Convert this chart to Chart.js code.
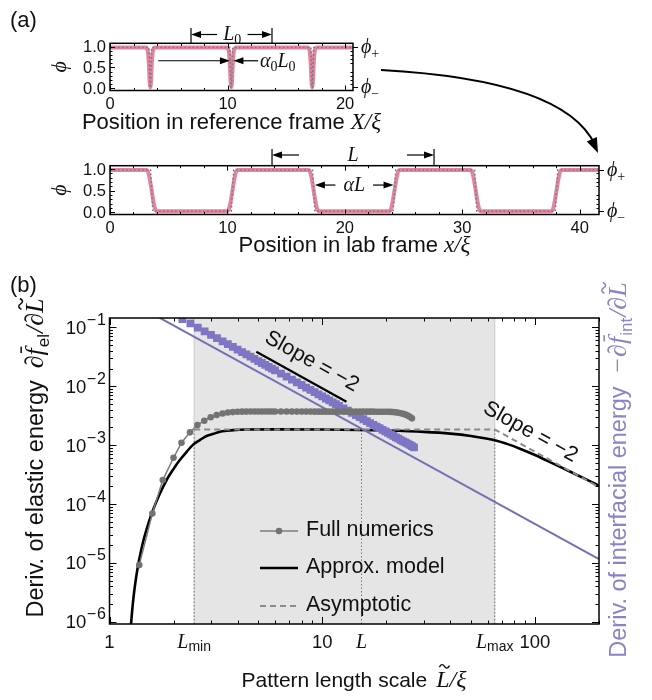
<!DOCTYPE html>
<html>
<head>
<meta charset="utf-8">
<title>Pattern length scale</title>
<script src="https://cdn.jsdelivr.net/npm/chart.js@4.4.1/dist/chart.umd.min.js"></script>
<style>
html,body{margin:0;padding:0;background:#fff;}
#wrap{position:relative;width:652px;height:700px;overflow:hidden;background:#fff;}
#wrap canvas{position:absolute;left:0;}
</style>
</head>
<body>
<div id="wrap">
  <canvas id="cB" width="652" height="440" style="top:260px"></canvas>
  <canvas id="cA2" width="652" height="120" style="top:140px"></canvas>
  <canvas id="cA1" width="652" height="170" style="top:0px"></canvas>
</div>
<script>
// ================= DATA =================
// Panel (a), reference frame
const refX   = [0, 3.03,3.21,3.31,3.38,3.43,3.48,3.55,3.65,3.83, 9.92,10.1,10.2,10.27,10.32,10.37,10.44,10.54,10.72, 16.8,16.98,17.08,17.15,17.2,17.25,17.32,17.42,17.6, 20.67];
const refPhi = [0.98, 0.98,0.9,0.55,0.12,0.02,0.12,0.55,0.9,0.98, 0.98,0.9,0.55,0.12,0.02,0.12,0.55,0.9,0.98, 0.98,0.9,0.55,0.12,0.02,0.12,0.55,0.9,0.98, 0.98];
const refDotX = [0, 3.31,3.41,3.45,3.55, 10.2,10.3,10.34,10.44, 17.08,17.18,17.22,17.32, 20.67];
const refDotY = [0.98, 0.98,0.02,0.02,0.98, 0.98,0.02,0.02,0.98, 0.98,0.02,0.02,0.98, 0.98];
// Panel (a), lab frame
const labX = [0,
  3.1,3.25,3.4,3.55,3.7,3.85,4.0,
  9.98,10.13,10.28,10.43,10.58,10.73,10.88,
  16.9,17.05,17.2,17.35,17.5,17.65,17.8,
  23.78,23.93,24.08,24.23,24.38,24.53,24.68,
  30.7,30.85,31.0,31.15,31.3,31.45,31.6,
  37.58,37.73,37.88,38.03,38.18,38.33,38.48,
  41.65];
const labPhi = [0.98,
  0.98,0.93,0.75,0.5,0.25,0.07,0.02,
  0.02,0.07,0.25,0.5,0.75,0.93,0.98,
  0.98,0.93,0.75,0.5,0.25,0.07,0.02,
  0.02,0.07,0.25,0.5,0.75,0.93,0.98,
  0.98,0.93,0.75,0.5,0.25,0.07,0.02,
  0.02,0.07,0.25,0.5,0.75,0.93,0.98,
  0.98];
const labDotX = [0, 3.45,3.65, 10.32,10.54, 17.25,17.45, 24.12,24.34, 31.05,31.25, 37.92,38.14, 41.65];
const labDotY = [0.98, 0.98,0.02, 0.02,0.98, 0.98,0.02, 0.02,0.98, 0.98,0.02, 0.02,0.98, 0.98];
const refXTicks = [0, 10, 20];
const labXTicks = [0, 10, 20, 30, 40];
const aYTicks = [0.0, 0.5, 1.0];
const aYTickLabels = ['0.0', '0.5', '1.0'];
const phiPlus = 0.98, phiMinus = 0.02;
const L0start = 6.89, L0end = 13.78;
const Lstart = 13.8, Lend = 27.6;

// Panel (b)
const numX = [1.38,1.59,1.78,2.0,2.18,2.39,2.59,2.79,2.99,3.19,3.4,3.6,3.8,4.0,4.2,4.4,4.6,4.8,5.0,5.2,5.4,5.6,5.8,6.0,
  6.4,6.8,7.2,7.6,8.0,8.4,8.8,9.2,9.6,10.0,10.4,10.8,11.2,11.6,12.0,
  12.6,13.2,13.8,14.4,15.0,15.6,16.2,16.8,17.4,18.0,18.6,19.2,19.8,20.4,21.0,21.6,22.2,22.8,23.4,24.0,24.6,25.2,25.8,26.4];
const numElastic = [9.2e-6,6.9e-5,2.55e-4,6.1e-4,1.1e-3,1.65e-3,2.19e-3,2.6e-3,2.97e-3,3.24e-3,3.45e-3,3.58e-3,3.64e-3,3.68e-3,3.7e-3,3.71e-3,3.72e-3,3.72e-3,3.72e-3,3.72e-3,3.72e-3,3.72e-3,3.72e-3,3.72e-3,
  3.72e-3,3.72e-3,3.71e-3,3.71e-3,3.71e-3,3.71e-3,3.71e-3,3.7e-3,3.7e-3,3.7e-3,3.7e-3,3.7e-3,3.7e-3,3.7e-3,3.7e-3,
  3.7e-3,3.7e-3,3.7e-3,3.7e-3,3.7e-3,3.7e-3,3.7e-3,3.7e-3,3.7e-3,3.69e-3,3.69e-3,3.69e-3,3.68e-3,3.68e-3,3.67e-3,3.64e-3,3.6e-3,3.55e-3,3.48e-3,3.4e-3,3.3e-3,3.18e-3,3.02e-3,2.85e-3];
const sqX = [2.2,2.4,2.6,2.8,3.0,3.2,3.4,3.6,3.8,4.0,4.2,4.4,4.6,4.8,5.0,5.2,5.4,5.6,5.8,6.0,
  6.4,6.8,7.2,7.6,8.0,8.4,8.8,9.2,9.6,10.0,10.4,10.8,11.2,11.6,12.0,
  12.6,13.2,13.8,14.4,15.0,15.6,16.2,16.8,17.4,18.0,18.6,19.2,19.8,20.4,21.0,21.6,22.2,22.8,23.4,24.0,24.6,25.2,25.8,26.4,27.0];
const sqInterfacial = [0.1384,0.1163,0.0991,0.0855,0.0744,0.0654,0.058,0.0517,0.0464,0.0419,0.038,0.0346,0.0317,0.0291,0.0268,0.0248,0.023,0.0214,0.0199,0.0186,
  0.0164,0.0145,0.0129,0.0116,0.0105,0.0095,0.00865,0.00792,0.00727,0.0067,0.00619,0.00574,0.00534,0.00498,0.00465,
  0.00422,0.00385,0.00352,0.00323,0.00298,0.00275,0.00255,0.00237,0.00221,0.00207,0.00194,0.00182,0.00171,0.00161,0.00152,0.00144,0.00136,0.00129,0.00122,0.00116,0.00111,0.00106,0.00101,0.000961,0.000919];
const approxX = [1.245,1.262,1.285,1.308,1.335,1.366,1.41,1.458,1.53,1.607,1.72,1.857,2.0,2.14,2.3,2.48,2.66,2.86,3.08,3.31,3.55,3.82,4.41,6,10,15,20,30,40,50,64.7,75,85,100,122,150,175,200];
const approxElastic = [4.1e-7,8.9e-7,1.9e-6,3.39e-6,5.78e-6,9.48e-6,1.67e-5,2.74e-5,4.94e-5,8.18e-5,1.47e-4,2.58e-4,3.95e-4,5.58e-4,7.64e-4,1.03e-3,1.22e-3,1.43e-3,1.56e-3,1.69e-3,1.75e-3,1.80e-3,1.84e-3,1.85e-3,1.84e-3,1.81e-3,1.77e-3,1.68e-3,1.57e-3,1.43e-3,1.21e-3,1.03e-3,8.7e-4,6.8e-4,4.85e-4,3.4e-4,2.6e-4,2.05e-4];
const Lmin = 2.5, Lmid = 15.3, Lmax = 64.7;
const asymX = [2.5, 64.7, 200];
const asymElastic = [1.85e-3, 1.85e-3, 1.936e-4];
const interfX = [1.6, 200];
const interfApprox = [0.1676, 1.16e-5];
const slopeSegX = [4.9, 13.0];
const slopeSegY = [0.0385, 0.00547];
const guideTop = 1.85e-3;
const bXMin = 1, bXMax = 200, bYMin = 9.2e-7, bYMax = 0.144;
const bXTickValues = [1, 2.5, 10, 15.3, 64.7, 100];
const bXTickLabels = ['1', 'L|min', '10', 'L', 'L|max', '100'];
const bYTickExps = [-1, -2, -3, -4, -5, -6];
const legendLabels = ['Full numerics', 'Approx. model', 'Asymptotic'];

// ================= HELPERS =================
const FS = '"Liberation Sans", Arial, sans-serif';
const FI = '"Liberation Serif", "DejaVu Serif", serif';
const INK = '#111';
const PURPLE = '#7570b3', PURPLE_SQ = '#7d76c4', PURPLE_TXT = '#8a84c6';
const pts = (xs, ys) => xs.map((x, i) => ({x, y: ys[i]}));
function fontOf(p){ return p.f === 'i' ? `italic ${p.s}px ${FI}` : (p.f === 'r' ? `${p.s}px ${FI}` : `${p.s}px ${FS}`); }
function partsWidth(ctx, parts){ let w = 0; for (const p of parts){ ctx.font = fontOf(p); p._w = ctx.measureText(p.t).width; w += p._w + (p.g || 0); } return w; }
function drawParts(ctx, parts, x, y, align){
  const w = partsWidth(ctx, parts);
  let cx = align === 'center' ? x - w/2 : (align === 'right' ? x - w : x);
  ctx.textAlign = 'left'; ctx.textBaseline = 'alphabetic';
  for (const p of parts){
    ctx.font = fontOf(p);
    const yy = y + (p.dy || 0);
    ctx.fillText(p.t, cx, yy);
    if (p.acc === 'bar'){
      ctx.save(); ctx.strokeStyle = ctx.fillStyle; ctx.lineWidth = Math.max(1, p.s*0.06);
      const by = yy - p.s*0.84; ctx.beginPath(); ctx.moveTo(cx + p._w*0.35, by); ctx.lineTo(cx + p._w*1.2, by); ctx.stroke(); ctx.restore();
    }
    if (p.acc === 'tilde'){
      ctx.save(); ctx.strokeStyle = ctx.fillStyle; ctx.lineWidth = Math.max(1, p.s*0.06);
      const tx = cx + p._w*0.62, ty = yy - p.s*0.86, tw = p.s*0.42, th = p.s*0.1;
      ctx.beginPath(); ctx.moveTo(tx - tw/2, ty + th*0.3);
      ctx.quadraticCurveTo(tx - tw/4, ty - th*1.6, tx, ty);
      ctx.quadraticCurveTo(tx + tw/4, ty + th*1.6, tx + tw/2, ty - th*0.3);
      ctx.stroke(); ctx.restore();
    }
    cx += p._w + (p.g || 0);
  }
  return w;
}
function arrow(ctx, x1, y1, x2, y2, hl, hw){
  hl = hl || 10; hw = hw || 7;
  const dx = x2 - x1, dy = y2 - y1, n = Math.hypot(dx, dy), ux = dx/n, uy = dy/n;
  ctx.beginPath(); ctx.moveTo(x1, y1); ctx.lineTo(x2 - ux*hl*0.7, y2 - uy*hl*0.7); ctx.stroke();
  ctx.beginPath(); ctx.moveTo(x2, y2);
  ctx.lineTo(x2 - ux*hl - uy*hw/2, y2 - uy*hl + ux*hw/2);
  ctx.lineTo(x2 - ux*hl + uy*hw/2, y2 - uy*hl - ux*hw/2);
  ctx.closePath(); ctx.fill();
}
function baseOpts(padding, xs, ys){
  return { responsive:false, animation:false, events:[], layout:{padding},
    plugins:{legend:{display:false}, tooltip:{enabled:false}}, scales:{x:xs, y:ys} };
}

// ================= PANEL (a) =================
function panelAPlugin(o){
  return { id:'panelA_' + o.id, afterDraw(chart){
    const {ctx, chartArea:a} = chart; const xs = chart.scales.x, ys = chart.scales.y;
    ctx.save();
    ctx.strokeStyle = '#000'; ctx.fillStyle = INK;
    ctx.lineWidth = 1; ctx.beginPath();
    for (let v = 0; v <= o.xmax + 1e-9; v += 2){
      const p = Math.round(xs.getPixelForValue(v)) + 0.5;
      const len = (v % 10 === 0) ? 5 : 2.5;
      ctx.moveTo(p, a.bottom); ctx.lineTo(p, a.bottom - len);
      ctx.moveTo(p, a.top); ctx.lineTo(p, a.top + len);
    }
    for (let k = 0; k <= 10; k++){
      const v = k/10; const p = Math.round(ys.getPixelForValue(v)) + 0.5;
      const len = (k % 5 === 0) ? 5 : 2.5;
      ctx.moveTo(a.left, p); ctx.lineTo(a.left + len, p);
      if (k % 5 !== 0){ ctx.moveTo(a.right, p); ctx.lineTo(a.right - 2.5, p); }
    }
    for (const v of [phiPlus, phiMinus]){
      const p = Math.round(ys.getPixelForValue(v)) + 0.5;
      ctx.moveTo(a.right, p); ctx.lineTo(a.right + 5, p);
    }
    ctx.stroke();
    ctx.lineWidth = 1.5; ctx.strokeRect(a.left, a.top, a.right - a.left, a.bottom - a.top);
    ctx.font = `16.5px ${FS}`; ctx.textAlign = 'center'; ctx.textBaseline = 'alphabetic';
    for (const v of o.xticks){ ctx.fillText(String(v), xs.getPixelForValue(v), a.bottom + 18.5); }
    ctx.textAlign = 'right'; ctx.textBaseline = 'middle';
    aYTicks.forEach((v, i) => ctx.fillText(aYTickLabels[i], a.left - 4, ys.getPixelForValue(v) + 1));
    drawParts(ctx, [{t:'ϕ', f:'i', s:20}, {t:'+', f:'r', s:14, dy:5}], a.right + 8, ys.getPixelForValue(phiPlus) + 6, 'left');
    drawParts(ctx, [{t:'ϕ', f:'i', s:20}, {t:'−', f:'r', s:14, dy:5}], a.right + 8, ys.getPixelForValue(phiMinus) + 6, 'left');
    drawParts(ctx, o.xlabel, (a.left + a.right)/2, o.xlabelY, 'center');
    ctx.save(); ctx.translate(66, (a.top + a.bottom)/2); ctx.rotate(-Math.PI/2);
    drawParts(ctx, [{t:'ϕ', f:'i', s:22}], 0, 0, 'center'); ctx.restore();
    o.extra(ctx, xs, ys, a);
    ctx.restore();
  }};
}

new Chart(document.getElementById('cA1'), {
  type:'line',
  data:{datasets:[
    {data:pts(refDotX, refDotY), borderColor:'#7a7a7a', borderWidth:1.6, borderDash:[1.6,2.4], pointRadius:0, order:0},
    {data:pts(refX, refPhi), borderColor:'rgba(222,112,142,0.85)', borderWidth:4, pointRadius:0, borderJoinStyle:'round', cubicInterpolationMode:'monotone', order:1}
  ]},
  options: baseOpts({left:110, right:652-353, top:43.3, bottom:170-90.5},
    {type:'linear', min:0, max:20.67, display:false},
    {type:'linear', min:-0.055, max:1.08, display:false}),
  plugins:[panelAPlugin({id:'ref', xmax:20.67, xticks:refXTicks, xlabelY:129,
    xlabel:[{t:'Position in reference frame', f:'s', s:22, g:6}, {t:'X', f:'i', s:23}, {t:'/', f:'i', s:23}, {t:'ξ', f:'i', s:23}],
    extra(ctx, xs, ys, a){
      ctx.strokeStyle = '#000'; ctx.fillStyle = '#000'; ctx.lineWidth = 1.2;
      const b1 = xs.getPixelForValue(L0start), b2 = xs.getPixelForValue(L0end);
      ctx.beginPath(); ctx.moveTo(b1, 28); ctx.lineTo(b1, a.top); ctx.moveTo(b2, 28); ctx.lineTo(b2, a.top); ctx.stroke();
      arrow(ctx, xs.getPixelForValue(9.1), 34.5, b1, 34.5);
      arrow(ctx, xs.getPixelForValue(11.7), 34.5, b2, 34.5);
      ctx.fillStyle = INK;
      drawParts(ctx, [{t:'L', f:'i', s:20}, {t:'0', f:'r', s:14, dy:4}], xs.getPixelForValue(10.4), 40, 'center');
      const ya = ys.getPixelForValue(0.66);
      ctx.fillStyle = '#000';
      arrow(ctx, xs.getPixelForValue(4.1), ya, xs.getPixelForValue(10.2), ya);
      arrow(ctx, xs.getPixelForValue(12.6), ya, xs.getPixelForValue(10.5), ya);
      ctx.fillStyle = INK;
      drawParts(ctx, [{t:'α', f:'i', s:20}, {t:'0', f:'r', s:14, dy:4}, {t:'L', f:'i', s:20}, {t:'0', f:'r', s:14, dy:4}], xs.getPixelForValue(12.75), ya + 6, 'left');
      ctx.font = `22px ${FS}`; ctx.textAlign = 'left'; ctx.textBaseline = 'alphabetic';
      ctx.fillText('(a)', 10, 27);
      ctx.strokeStyle = '#000'; ctx.fillStyle = '#000'; ctx.lineWidth = 2;
      const P0 = [381, 70], C = [565, 80], P2 = [598, 153];
      ctx.beginPath(); ctx.moveTo(P0[0], P0[1]); ctx.quadraticCurveTo(C[0], C[1], P2[0] - 3, P2[1] - 8); ctx.stroke();
      const dx = P2[0] - C[0], dy = P2[1] - C[1], n = Math.hypot(dx, dy), ux = dx/n, uy = dy/n, hl = 15, hw = 11;
      ctx.beginPath(); ctx.moveTo(P2[0], P2[1]);
      ctx.lineTo(P2[0] - ux*hl - uy*hw/2, P2[1] - uy*hl + ux*hw/2);
      ctx.lineTo(P2[0] - ux*hl + uy*hw/2, P2[1] - uy*hl - ux*hw/2);
      ctx.closePath(); ctx.fill();
    }})]
});

new Chart(document.getElementById('cA2'), {
  type:'line',
  data:{datasets:[
    {data:pts(labDotX, labDotY), borderColor:'#7a7a7a', borderWidth:1.6, borderDash:[1.6,2.4], pointRadius:0, order:0},
    {data:pts(labX, labPhi), borderColor:'rgba(222,112,142,0.85)', borderWidth:4, pointRadius:0, borderJoinStyle:'round', cubicInterpolationMode:'monotone', order:1}
  ]},
  options: baseOpts({left:110, right:652-599, top:25.7, bottom:120-74.5},
    {type:'linear', min:0, max:41.65, display:false},
    {type:'linear', min:-0.055, max:1.08, display:false}),
  plugins:[panelAPlugin({id:'lab', xmax:41.65, xticks:labXTicks, xlabelY:112,
    xlabel:[{t:'Position in lab frame', f:'s', s:22, g:6}, {t:'x', f:'i', s:23}, {t:'/', f:'i', s:23}, {t:'ξ', f:'i', s:23}],
    extra(ctx, xs, ys, a){
      ctx.strokeStyle = '#000'; ctx.fillStyle = '#000'; ctx.lineWidth = 1.2;
      const b1 = xs.getPixelForValue(Lstart), b2 = xs.getPixelForValue(Lend);
      ctx.beginPath(); ctx.moveTo(b1, 9); ctx.lineTo(b1, a.top); ctx.moveTo(b2, 9); ctx.lineTo(b2, a.top); ctx.stroke();
      arrow(ctx, xs.getPixelForValue(16.1), 15, b1, 15);
      arrow(ctx, xs.getPixelForValue(25.3), 15, b2, 15);
      ctx.fillStyle = INK;
      drawParts(ctx, [{t:'L', f:'i', s:20}], xs.getPixelForValue(20.7), 21, 'center');
      const ya = ys.getPixelForValue(0.63);
      ctx.fillStyle = '#000';
      arrow(ctx, xs.getPixelForValue(19.2), ya, xs.getPixelForValue(17.45), ya);
      arrow(ctx, xs.getPixelForValue(22.4), ya, xs.getPixelForValue(24.15), ya);
      ctx.fillStyle = INK;
      drawParts(ctx, [{t:'αL', f:'i', s:20}], xs.getPixelForValue(20.8), ya + 6, 'center');
    }})]
});

// ================= PANEL (b) =================
const bPlugin = {
  id:'panelB',
  beforeDatasetsDraw(chart){
    const {ctx, chartArea:a} = chart; const xs = chart.scales.x;
    const x0 = xs.getPixelForValue(Lmin), x1 = xs.getPixelForValue(Lmax);
    ctx.save();
    ctx.fillStyle = '#e5e5e5'; ctx.fillRect(x0, a.top, x1 - x0, a.bottom - a.top);
    ctx.strokeStyle = '#c9c9c9'; ctx.lineWidth = 1;
    ctx.beginPath(); ctx.moveTo(x0, a.top); ctx.lineTo(x0, a.bottom); ctx.moveTo(x1, a.top); ctx.lineTo(x1, a.bottom); ctx.stroke();
    ctx.restore();
  },
  afterDraw(chart){
    const {ctx, chartArea:a} = chart; const xs = chart.scales.x, ys = chart.scales.y;
    ctx.save();
    ctx.strokeStyle = '#000'; ctx.lineWidth = 1; ctx.beginPath();
    for (let e = 0; e <= 2; e++){
      for (let m = 1; m <= 9; m++){
        const v = m*Math.pow(10, e); if (v < bXMin || v > bXMax) continue;
        const p = Math.round(xs.getPixelForValue(v)) + 0.5; const len = m === 1 ? 7 : 3.5;
        ctx.moveTo(p, a.bottom); ctx.lineTo(p, a.bottom - len);
        ctx.moveTo(p, a.top); ctx.lineTo(p, a.top + len);
      }
    }
    for (let e = -7; e <= -1; e++){
      for (let m = 1; m <= 9; m++){
        const v = m*Math.pow(10, e); if (v < bYMin || v > bYMax) continue;
        const p = Math.round(ys.getPixelForValue(v)) + 0.5; const len = m === 1 ? 7 : 3.5;
        ctx.moveTo(a.left, p); ctx.lineTo(a.left + len, p);
        ctx.moveTo(a.right, p); ctx.lineTo(a.right - len, p);
      }
    }
    ctx.stroke();
    ctx.lineWidth = 1.5; ctx.strokeRect(a.left, a.top, a.right - a.left, a.bottom - a.top);
    ctx.fillStyle = INK;
    bXTickValues.forEach((v, i) => {
      const lab = bXTickLabels[i]; const px = xs.getPixelForValue(v);
      if (lab.indexOf('|') >= 0){ const [b, s] = lab.split('|');
        drawParts(ctx, [{t:b, f:'i', s:20}, {t:s, f:'s', s:14, dy:3}], px, a.bottom + 24, 'center');
      } else if (lab === 'L'){ drawParts(ctx, [{t:'L', f:'i', s:20}], px, a.bottom + 24, 'center'); }
      else { drawParts(ctx, [{t:lab, f:'s', s:18.5}], px, a.bottom + 24, 'center'); }
    });
    bYTickExps.forEach(e => {
      const py = ys.getPixelForValue(Math.pow(10, e));
      drawParts(ctx, [{t:'10', f:'s', s:18.5, g:0.5}, {t:'−', f:'s', s:16, dy:-9, g:1}, {t:String(Math.abs(e)), f:'s', s:16, dy:-9}], 106, py + 6.5, 'right');
    });
    drawParts(ctx, [{t:'Pattern length scale', f:'s', s:21, g:9}, {t:'L', f:'i', s:24, acc:'tilde'}, {t:'/', f:'i', s:24}, {t:'ξ', f:'i', s:24}], 354, 427, 'center');
    ctx.save(); ctx.translate(43, 198); ctx.rotate(-Math.PI/2);
    drawParts(ctx, [{t:'Deriv. of elastic energy', f:'s', s:23.5, g:12}, {t:'∂', f:'i', s:26}, {t:'f', f:'i', s:26, acc:'bar', g:1}, {t:'el', f:'s', s:17, dy:6, g:1}, {t:'/∂', f:'i', s:26}, {t:'L', f:'i', s:26, acc:'tilde'}], 0, 0, 'center');
    ctx.restore();
    ctx.save(); ctx.fillStyle = PURPLE_TXT; ctx.translate(626, 210); ctx.rotate(-Math.PI/2);
    drawParts(ctx, [{t:'Deriv. of interfacial energy', f:'s', s:23.5, g:12}, {t:'−∂', f:'i', s:26}, {t:'f', f:'i', s:26, acc:'bar', g:1}, {t:'int', f:'s', s:17, dy:6, g:1}, {t:'/∂', f:'i', s:26}, {t:'L', f:'i', s:26, acc:'tilde'}], 0, 0, 'center');
    ctx.restore();
    const ang = Math.atan2(ys.getPixelForValue(1e-3) - ys.getPixelForValue(1e-1), xs.getPixelForValue(100) - xs.getPixelForValue(10));
    const slopeText = (vx, vy, off) => {
      ctx.save(); ctx.translate(xs.getPixelForValue(vx), ys.getPixelForValue(vy)); ctx.rotate(ang);
      ctx.fillStyle = INK; drawParts(ctx, [{t:'Slope = −2', f:'s', s:21.5}], 0, 7 + off, 'center'); ctx.restore();
    };
    slopeText(8.76, 0.0229, -5);
    slopeText(95.8, 1.73e-3, 0);
    ctx.fillStyle = INK; ctx.font = `22px ${FS}`; ctx.textAlign = 'left'; ctx.textBaseline = 'alphabetic';
    ctx.fillText('(b)', 10, 32);
    const ds = chart.data.datasets;
    const entries = [ds[0], ds[2], ds[3]];
    const ly = [271, 308, 346];
    entries.forEach((d, i) => {
      ctx.save(); ctx.strokeStyle = d.borderColor; ctx.lineWidth = d.borderWidth; ctx.setLineDash(d.borderDash || []);
      ctx.beginPath(); ctx.moveTo(260, ly[i]); ctx.lineTo(298, ly[i]); ctx.stroke();
      if (d.pointRadius){ ctx.setLineDash([]); ctx.fillStyle = d.pointBackgroundColor; ctx.beginPath(); ctx.arc(279, ly[i], d.pointRadius, 0, Math.PI*2); ctx.fill(); }
      ctx.restore();
      ctx.fillStyle = INK; drawParts(ctx, [{t:legendLabels[i], f:'s', s:21.5}], 306, ly[i] + 5, 'left');
    });
    ctx.restore();
  }
};

new Chart(document.getElementById('cB'), {
  type:'line',
  data:{datasets:[
    {label:'Full numerics', data:pts(numX, numElastic), borderColor:'#7b7b7b', borderWidth:1.5, pointRadius:3.3, pointBackgroundColor:'#737373', pointBorderWidth:0, order:0},
    {label:'Interfacial numerics', data:pts(sqX, sqInterfacial), showLine:false, pointStyle:'rect', pointRadius:5.5, pointBackgroundColor:PURPLE_SQ, pointBorderWidth:0, borderColor:PURPLE_SQ, order:1},
    {label:'Approx. model', data:pts(approxX, approxElastic), borderColor:'#000', borderWidth:2.6, pointRadius:0, cubicInterpolationMode:'monotone', order:4},
    {label:'Asymptotic', data:pts(asymX, asymElastic), borderColor:'#8a8a8a', borderWidth:2, borderDash:[6,4], pointRadius:0, order:3},
    {label:'Interfacial approx.', data:pts(interfX, interfApprox), borderColor:PURPLE, borderWidth:2, pointRadius:0, order:2},
    {label:'slope guide', data:pts(slopeSegX, slopeSegY), borderColor:'#000', borderWidth:2.2, pointRadius:0, order:5},
    {label:'Lmin', data:[{x:Lmin, y:bYMin}, {x:Lmin, y:guideTop}], borderColor:'#777', borderWidth:1, borderDash:[1.5,2], pointRadius:0, order:10},
    {label:'L', data:[{x:Lmid, y:bYMin}, {x:Lmid, y:guideTop}], borderColor:'#777', borderWidth:1, borderDash:[1.5,2], pointRadius:0, order:10},
    {label:'Lmax', data:[{x:Lmax, y:bYMin}, {x:Lmax, y:guideTop}], borderColor:'#777', borderWidth:1, borderDash:[1.5,2], pointRadius:0, order:10}
  ]},
  options: baseOpts({left:109.5, right:652-599, top:58, bottom:440-364},
    {type:'logarithmic', min:bXMin, max:bXMax, display:false},
    {type:'logarithmic', min:bYMin, max:bYMax, display:false}),
  plugins:[bPlugin]
});
</script>
</body>
</html>
